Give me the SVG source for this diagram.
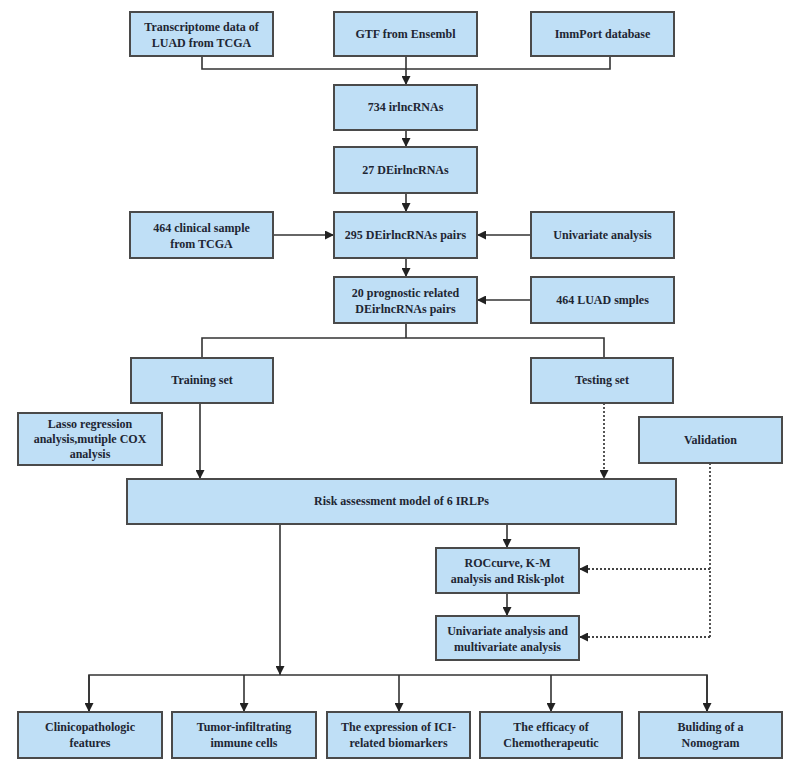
<svg xmlns="http://www.w3.org/2000/svg" width="800" height="776" viewBox="0 0 800 776">
<defs>
<style>
.box rect{fill:#bfdff6;stroke:#4a4a4a;stroke-width:2}
.box text{font-family:"Liberation Serif","Times New Roman",serif;font-weight:bold;font-size:12px;fill:#1e2633;text-anchor:middle}
.ln{fill:none;stroke:#333;stroke-width:1.6}
.dt{fill:none;stroke:#444;stroke-width:1.8;stroke-dasharray:2 2}
</style>
<marker id="ah" viewBox="0 0 10 10" refX="10" refY="5" markerWidth="9" markerHeight="9" markerUnits="userSpaceOnUse" orient="auto">
<path d="M0,0 L10,5 L0,10 z" fill="#222"/>
</marker>
</defs>
<rect width="800" height="776" fill="#ffffff"/>
<g id="connectors">
<path class="ln" d="M202,56 V69 H610 V56"/>
<path class="ln" d="M406,56 V85" marker-end="url(#ah)"/>
<path class="ln" d="M406,130 V147" marker-end="url(#ah)"/>
<path class="ln" d="M406,193 V212" marker-end="url(#ah)"/>
<path class="ln" d="M273,235 H334" marker-end="url(#ah)"/>
<path class="ln" d="M531,235 H477" marker-end="url(#ah)"/>
<path class="ln" d="M406,258 V277" marker-end="url(#ah)"/>
<path class="ln" d="M531,300 H477" marker-end="url(#ah)"/>
<path class="ln" d="M406,323 V338 M202,358 V338 H604 V358"/>
<path class="ln" d="M200,403 V479" marker-end="url(#ah)"/>
<path class="dt" d="M604,403 V479" marker-end="url(#ah)"/>
<path class="dt" d="M710,463 V637"/>
<path class="dt" d="M710,569 H579" marker-end="url(#ah)"/>
<path class="dt" d="M710,637 H579" marker-end="url(#ah)"/>
<path class="ln" d="M507,524 V548" marker-end="url(#ah)"/>
<path class="ln" d="M507,593 V616" marker-end="url(#ah)"/>
<path class="ln" d="M280,524 V675" marker-end="url(#ah)"/>
<path class="ln" d="M89,712 V675 H707 V712"/>
<path class="ln" d="M89,675 V712" marker-end="url(#ah)"/>
<path class="ln" d="M244,675 V712" marker-end="url(#ah)"/>
<path class="ln" d="M399,675 V712" marker-end="url(#ah)"/>
<path class="ln" d="M551,675 V712" marker-end="url(#ah)"/>
<path class="ln" d="M707,675 V712" marker-end="url(#ah)"/>
</g>
<g id="transcriptome" class="box"><rect x="130" y="12" width="143" height="44"/><text x="201.5" y="31">Transcriptome data of</text><text x="201.5" y="47">LUAD from TCGA</text></g>
<g id="gtf" class="box"><rect x="334" y="12" width="143" height="44"/><text x="405.5" y="38">GTF from Ensembl</text></g>
<g id="immport" class="box"><rect x="531" y="12" width="143" height="44"/><text x="602.5" y="38">ImmPort database</text></g>
<g id="irlnc734" class="box"><rect x="334" y="85" width="143" height="45"/><text x="405.5" y="111">734 irlncRNAs</text></g>
<g id="de27" class="box"><rect x="334" y="147" width="143" height="46"/><text x="405.5" y="174">27 DEirlncRNAs</text></g>
<g id="clinical464" class="box"><rect x="130" y="212" width="143" height="46"/><text x="201.5" y="232">464 clinical sample</text><text x="201.5" y="248">from TCGA</text></g>
<g id="pairs295" class="box"><rect x="334" y="212" width="143" height="46"/><text x="405.5" y="239">295 DEirlncRNAs pairs</text></g>
<g id="univariate" class="box"><rect x="531" y="212" width="143" height="46"/><text x="602.5" y="239">Univariate analysis</text></g>
<g id="prognostic20" class="box"><rect x="334" y="277" width="143" height="46"/><text x="405.5" y="297">20 prognostic related</text><text x="405.5" y="313">DEirlncRNAs pairs</text></g>
<g id="luad464" class="box"><rect x="531" y="277" width="143" height="46"/><text x="602.5" y="304">464 LUAD smples</text></g>
<g id="training" class="box"><rect x="131" y="358" width="142" height="45"/><text x="202" y="384">Training set</text></g>
<g id="testing" class="box"><rect x="531" y="358" width="142" height="45"/><text x="602" y="384">Testing set</text></g>
<g id="lasso" class="box"><rect x="18" y="413" width="144" height="52"/><text x="90" y="428">Lasso regression</text><text x="90" y="443">analysis,mutiple COX</text><text x="90" y="458">analysis</text></g>
<g id="validation" class="box"><rect x="639" y="417" width="143" height="46"/><text x="710.5" y="444">Validation</text></g>
<g id="risk" class="box"><rect x="127" y="479" width="549" height="45"/><text x="401.5" y="505">Risk assessment model of 6 IRLPs</text></g>
<g id="roc" class="box"><rect x="436" y="548" width="143" height="45"/><text x="507.5" y="567">ROCcurve, K-M</text><text x="507.5" y="583">analysis and Risk-plot</text></g>
<g id="unimulti" class="box"><rect x="436" y="616" width="143" height="44"/><text x="507.5" y="635">Univariate analysis and</text><text x="507.5" y="651">multivariate analysis</text></g>
<g id="clinico" class="box"><rect x="18" y="712" width="144" height="46"/><text x="90" y="731">Clinicopathologic</text><text x="90" y="747">features</text></g>
<g id="tumor" class="box"><rect x="172" y="712" width="144" height="46"/><text x="244" y="731">Tumor-infiltrating</text><text x="244" y="747">immune cells</text></g>
<g id="ici" class="box"><rect x="327" y="712" width="143" height="46"/><text x="398.5" y="731">The expression of ICI-</text><text x="398.5" y="747">related biomarkers</text></g>
<g id="chemo" class="box"><rect x="480" y="712" width="142" height="46"/><text x="551" y="731">The efficacy of</text><text x="551" y="747">Chemotherapeutic</text></g>
<g id="nomogram" class="box"><rect x="639" y="712" width="143" height="46"/><text x="710.5" y="731">Buliding of a</text><text x="710.5" y="747">Nomogram</text></g>
</svg>
